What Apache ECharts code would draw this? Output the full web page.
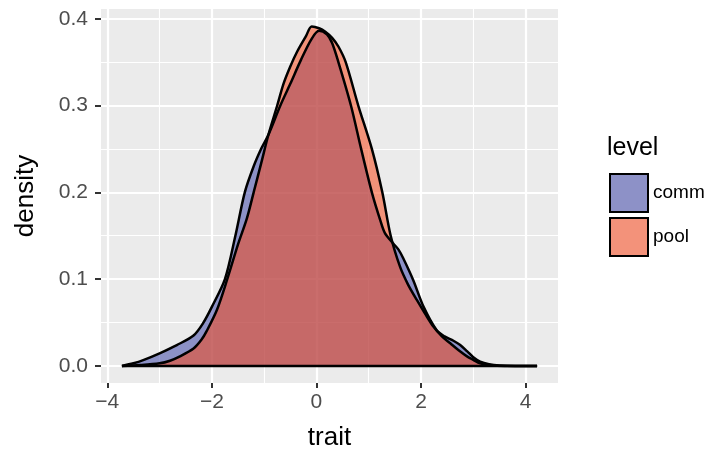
<!DOCTYPE html>
<html>
<head>
<meta charset="utf-8">
<script src="https://cdn.jsdelivr.net/npm/echarts@6/dist/echarts.min.js"></script>
<style>
html, body { margin: 0; padding: 0; background: #fff; }
#chart { width: 718px; height: 452px; }
</style>
</head>
<body>
<div id="chart"></div>
<script>
// density curves
var commTrait = [-3.72, -3.5, -3.3, -3.0, -2.67, -2.35, -2.17, -2.0, -1.75, -1.55, -1.37, -1.2, -1.05, -0.92, -0.69, -0.5, -0.3, -0.1, 0.05, 0.2, 0.3, 0.42, 0.66, 0.855, 1.06, 1.22, 1.31, 1.47, 1.57, 1.66, 1.85, 2.05, 2.3, 2.45, 2.62, 2.75, 2.88, 3.0, 3.13, 3.3, 3.5, 3.8, 4.22];
var commDensity = [0, 0.003, 0.007, 0.0145, 0.024, 0.035, 0.049, 0.068, 0.1, 0.15, 0.2, 0.23, 0.251, 0.266, 0.3, 0.325, 0.352, 0.376, 0.386, 0.382, 0.372, 0.35, 0.3, 0.25, 0.2, 0.168, 0.153, 0.141, 0.134, 0.124, 0.099, 0.068, 0.041, 0.034, 0.029, 0.024, 0.017, 0.010, 0.005, 0.002, 0.0005, 0, 0];
var poolTrait = [-3.72, -3.37, -3.0, -2.8, -2.61, -2.35, -2.2, -2.1, -1.9, -1.71, -1.5, -1.33, -1.2, -1.05, -0.92, -0.75, -0.63, -0.5, -0.37, -0.2, -0.09, 0.05, 0.17, 0.3, 0.42, 0.56, 0.8, 1.06, 1.26, 1.42, 1.6, 1.75, 1.92, 2.08, 2.24, 2.4, 2.56, 2.72, 2.88, 3.0, 3.13, 3.3, 3.6, 4.22];
var poolDensity = [0, 0.001, 0.003, 0.006, 0.011, 0.020, 0.030, 0.040, 0.065, 0.099, 0.14, 0.17, 0.2, 0.235, 0.266, 0.3, 0.325, 0.345, 0.362, 0.38, 0.391, 0.389, 0.385, 0.378, 0.368, 0.35, 0.3, 0.25, 0.2, 0.15, 0.114, 0.094, 0.076, 0.060, 0.045, 0.034, 0.026, 0.018, 0.011, 0.007, 0.003, 0.001, 0, 0];

var levels = ['comm', 'pool'];
var xTicks = [-4, -2, 0, 2, 4];
var xMinor = [-3, -1, 1, 3];
var yTicks = [0, 0.1, 0.2, 0.3, 0.4];
var yMinor = [0.05, 0.15, 0.25, 0.35];

var fills = ['rgba(77,85,173,0.6)', 'rgba(246,73,28,0.55)'];
var keyFills = ['#8D91C7', '#F3927A'];
var FONT = '"Liberation Sans", Arial, sans-serif';

function zip(xs, ys) {
    return xs.map(function (x, i) { return [x, ys[i]]; });
}

function densitySeries(name, xs, ys, fill) {
    return {
        name: name,
        type: 'line',
        data: zip(xs, ys),
        smooth: 0.3,
        showSymbol: false,
        symbol: 'none',
        silent: true,
        itemStyle: {color: fill},
        lineStyle: {color: '#000', width: 2.5},
        areaStyle: {color: fill, origin: 0, opacity: 1}
    };
}

var xMin = -4.12, xMax = 4.62;
var yMin = -0.0197, yMax = 0.4112;

var chart = echarts.init(document.getElementById('chart'), null, {renderer: 'canvas'});
chart.setOption({
    animation: false,
    textStyle: {fontFamily: FONT},
    grid: {
        left: 101, right: 160, top: 9, bottom: 69,
        outerBoundsMode: 'none', containLabel: false,
        show: true, backgroundColor: '#EBEBEB', borderWidth: 0
    },
    title: {
        text: 'level', left: 602, top: 131,
        textStyle: {fontFamily: FONT, fontSize: 25, fontWeight: 'normal', color: '#000'}
    },
    legend: {
        orient: 'vertical', left: 604, top: 168,
        icon: 'rect', itemWidth: 38, itemHeight: 38, itemGap: 4,
        textStyle: {fontFamily: FONT, fontSize: 19, color: '#000'},
        data: levels.map(function (l, i) {
            return {name: l, itemStyle: {color: keyFills[i], borderColor: '#000', borderWidth: 2}};
        })
    },
    xAxis: [{
        type: 'value', min: xMin, max: xMax, position: 'bottom',
        name: 'trait', nameLocation: 'middle', nameGap: 42,
        nameTextStyle: {fontFamily: FONT, fontSize: 26, color: '#000'},
        axisLine: {show: false, onZero: false},
        axisTick: {show: true, length: 5, customValues: xTicks, lineStyle: {color: '#333', width: 2}},
        axisLabel: {
            customValues: xTicks, fontSize: 21, color: '#4D4D4D', margin: 9, fontFamily: FONT,
            formatter: function (v) { return (v < 0 ? '\u2212' : '') + Math.abs(v); }
        },
        splitLine: {show: true, lineStyle: {color: '#fff', width: 2.2}}
    }, {
        type: 'value', min: xMin, max: xMax, position: 'top',
        axisLine: {show: false, onZero: false},
        axisTick: {show: false, customValues: xMinor},
        axisLabel: {show: false, customValues: xMinor},
        splitLine: {show: true, lineStyle: {color: '#fff', width: 1.1}}
    }],
    yAxis: [{
        type: 'value', min: yMin, max: yMax, position: 'left',
        name: 'density', nameLocation: 'middle', nameGap: 62,
        nameTextStyle: {fontFamily: FONT, fontSize: 26, color: '#000'},
        axisLine: {show: false, onZero: false},
        axisTick: {show: true, length: 6, customValues: yTicks, lineStyle: {color: '#333', width: 2}},
        axisLabel: {
            customValues: yTicks, fontSize: 21, color: '#4D4D4D', margin: 13, fontFamily: FONT,
            formatter: function (v) { return v.toFixed(1); }
        },
        splitLine: {show: true, lineStyle: {color: '#fff', width: 2}}
    }, {
        type: 'value', min: yMin, max: yMax, position: 'right',
        axisLine: {show: false, onZero: false},
        axisTick: {show: false, customValues: yMinor},
        axisLabel: {show: false, customValues: yMinor},
        splitLine: {show: true, lineStyle: {color: '#fff', width: 1.1}}
    }],
    series: [
        densitySeries(levels[0], commTrait, commDensity, fills[0]),
        densitySeries(levels[1], poolTrait, poolDensity, fills[1]),
        {
            // bottom edge of the density outlines
            name: 'baseline', type: 'line', silent: true, symbol: 'none',
            data: [[commTrait[0], 0], [commTrait[commTrait.length - 1], 0]],
            lineStyle: {color: '#000', width: 2.5}
        }
    ]
});
</script>
</body>
</html>
